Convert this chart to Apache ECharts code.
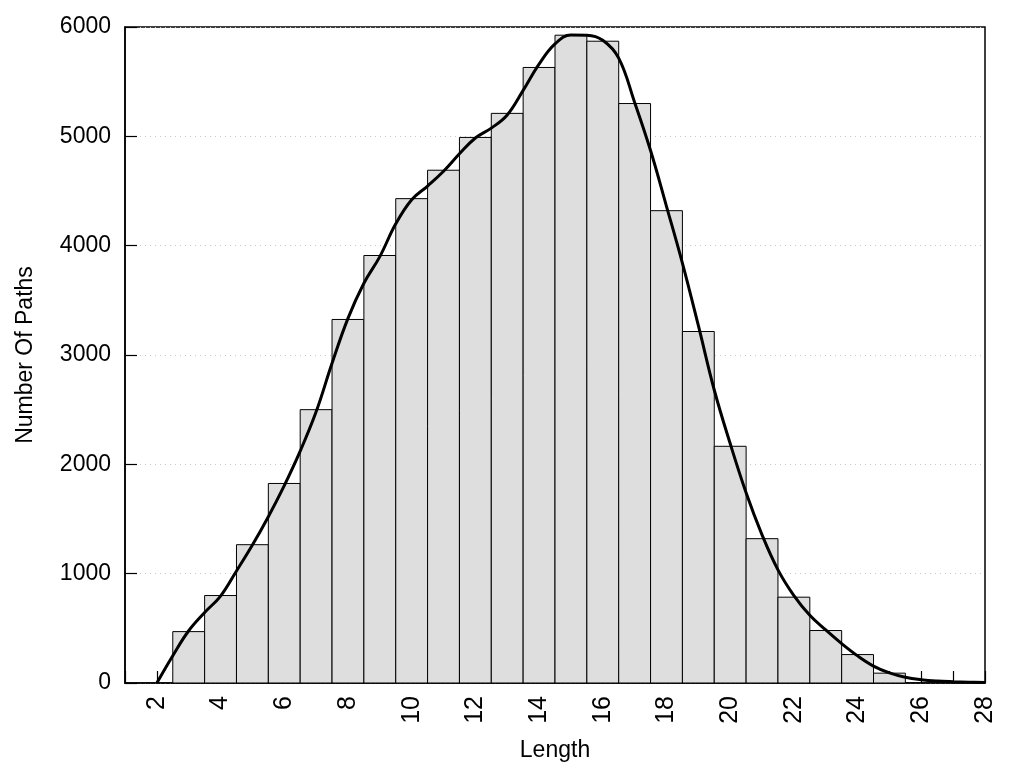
<!DOCTYPE html>
<html>
<head>
<meta charset="utf-8">
<script src="https://cdn.jsdelivr.net/npm/echarts@6/dist/echarts.min.js"></script>
<style>
html,body{margin:0;padding:0;background:#fff;}
#chart{width:1024px;height:768px;}
</style>
</head>
<body>
<div id="chart"></div>
<script>
// Histogram bins (bar centers) and counts
var binCenters = [3,4,5,6,7,8,9,10,11,12,13,14,15,16,17,18,19,20,21,22,23,24,25];
var binCounts = [470,800,1265,1825,2500,3325,3910,4430,4690,4990,5210,5630,5925,5870,5300,4320,3215,2165,1320,785,480,260,90];

// Smooth density curve
var curveX = [2,2.5,3,3.5,4,4.5,5,5.5,6,6.5,7,7.5,8,8.5,9,9.5,10,10.5,11,11.5,12,12.5,13,13.5,14,14.5,15,15.5,16,16.5,17,17.5,18,18.5,19,19.5,20,20.5,21,21.5,22,22.5,23,23.5,24,24.5,25,25.5,26,26.5,27,27.5,28];
var curveY = [0,250,478,645,795,1025,1262,1521,1805,2120,2480,2924,3335,3656,3900,4200,4420,4545,4680,4840,4985,5075,5195,5420,5660,5845,5927,5925,5878,5715,5310,4870,4360,3840,3270,2680,2190,1740,1355,1035,800,620,485,360,248,155,92,52,30,18,12,8,5];

var yTicks = [0,1000,2000,3000,4000,5000,6000];
var xTickLabels = [2,4,6,8,10,12,14,16,18,20,22,24,26,28];

var barData = binCenters.map(function(c,i){return [c, binCounts[i]];});
var curveData = curveX.map(function(x,i){return [x, curveY[i]];});

var FONT = '"Liberation Sans", Arial, sans-serif';
var chart = echarts.init(document.getElementById('chart'), null, {renderer:'canvas'});
chart.setOption({
  animation:false,
  backgroundColor:'#fff',
  grid:{left:125,right:39,top:27,bottom:85,show:true,borderColor:'#000',borderWidth:1.5,backgroundColor:'transparent'},
  xAxis:{
    type:'value',min:1,max:28,interval:1,
    name:'Length',nameLocation:'middle',nameGap:56,
    nameTextStyle:{fontFamily:FONT,fontSize:23,color:'#000'},
    axisLine:{show:true,lineStyle:{color:'#000',width:1.5}},
    axisTick:{show:true,inside:true,length:12,lineStyle:{color:'#000',width:1.2}},
    axisLabel:{rotate:90,margin:13,fontFamily:FONT,fontSize:25,color:'#000',
      formatter:function(v){return xTickLabels.indexOf(v)>=0?String(v):'';}},
    splitLine:{show:false}
  },
  yAxis:{
    type:'value',min:yTicks[0],max:yTicks[yTicks.length-1],interval:1000,
    name:'Number Of Paths',nameLocation:'middle',nameGap:88,
    nameTextStyle:{fontFamily:FONT,fontSize:23,color:'#000'},
    axisLine:{show:true,lineStyle:{color:'#000',width:1.5}},
    axisTick:{show:true,inside:true,length:12,lineStyle:{color:'#000',width:1.2}},
    axisLabel:{margin:14,fontFamily:FONT,fontSize:23,color:'#000',formatter:function(v){return String(v);}},
    splitLine:{show:true,lineStyle:{color:'#c8c8c8',type:[1,4],width:1}}
  },
  series:[
    {
      type:'custom',
      z:3,
      data:barData,
      renderItem:function(params,api){
        var x=api.value(0), y=api.value(1);
        var p1=api.coord([x-0.5,y]);
        var p2=api.coord([x+0.5,0]);
        return {type:'rect',shape:{x:p1[0],y:p1[1],width:p2[0]-p1[0],height:p2[1]-p1[1]},
          style:{fill:'#dedede',stroke:'#000',lineWidth:1}};
      }
    },
    {
      type:'line',z:5,data:curveData,smooth:0.4,showSymbol:false,symbol:'none',
      lineStyle:{color:'#000',width:3}
    }
  ]
});
</script>
</body>
</html>
